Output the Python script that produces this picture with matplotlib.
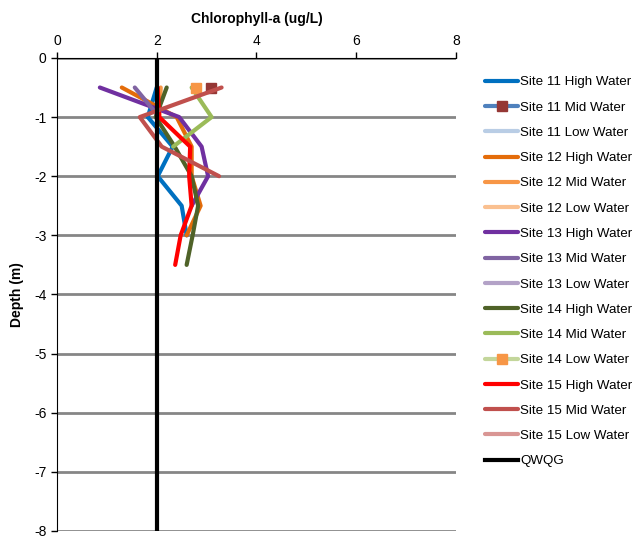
import matplotlib.pyplot as plt

plt.rcParams['font.family'] = ['Liberation Sans', 'DejaVu Sans']
plt.rcParams['axes.unicode_minus'] = False

# chlorophyll-a profiles (ug/L) against depth (m) for each site / water level
labels = ['Site 11 High Water', 'Site 11 Mid Water', 'Site 11 Low Water',
          'Site 12 High Water', 'Site 12 Mid Water', 'Site 12 Low Water',
          'Site 13 High Water', 'Site 13 Mid Water', 'Site 13 Low Water',
          'Site 14 High Water', 'Site 14 Mid Water', 'Site 14 Low Water',
          'Site 15 High Water', 'Site 15 Mid Water', 'Site 15 Low Water']

s11_high_chl = [2.0, 1.82, 2.32, 2.02, 2.5, 2.6]
s11_high_z = [-0.5, -1.0, -1.5, -2.0, -2.5, -3.0]
s11_mid_chl = [3.09]
s11_mid_z = [-0.5]
s11_low_chl = []
s11_low_z = []

s12_high_chl = [1.3, 2.4, 2.7, 2.7, 2.88, 2.6]
s12_high_z = [-0.5, -1.0, -1.5, -2.0, -2.5, -3.0]
s12_mid_chl = [2.08, 2.05]
s12_mid_z = [-0.5, -1.0]
s12_low_chl = []
s12_low_z = []

s13_high_chl = [0.86, 2.45, 2.9, 3.03, 2.7]
s13_high_z = [-0.5, -1.0, -1.5, -2.0, -2.5]
s13_mid_chl = [1.56, 2.05]
s13_mid_z = [-0.5, -1.0]
s13_low_chl = []
s13_low_z = []

s14_high_chl = [2.2, 1.98, 2.36, 2.7, 2.83, 2.72, 2.6]
s14_high_z = [-0.5, -1.0, -1.5, -2.0, -2.5, -3.0, -3.5]
s14_mid_chl = [2.7, 3.1, 2.33]
s14_mid_z = [-0.5, -1.0, -1.5]
s14_low_chl = [2.79]
s14_low_z = [-0.5]

s15_high_chl = [2.02, 2.05, 2.67, 2.65, 2.7, 2.48, 2.37]
s15_high_z = [-0.5, -1.0, -1.5, -2.0, -2.5, -3.0, -3.5]
s15_mid_chl = [3.3, 1.66, 2.1, 3.25]
s15_mid_z = [-0.5, -1.0, -1.5, -2.0]
s15_low_chl = []
s15_low_z = []

# water quality guideline
qwqg_chl = [2, 2]
qwqg_z = [0, -8]

series = [
    (s11_high_chl, s11_high_z, '#0070C0', None, None),
    (s11_mid_chl, s11_mid_z, '#4F81BD', 's', '#953735'),
    (s11_low_chl, s11_low_z, '#B9CDE5', None, None),
    (s12_high_chl, s12_high_z, '#E46C0A', None, None),
    (s12_mid_chl, s12_mid_z, '#F79646', None, None),
    (s12_low_chl, s12_low_z, '#FAC090', None, None),
    (s13_high_chl, s13_high_z, '#7030A0', None, None),
    (s13_mid_chl, s13_mid_z, '#8064A2', None, None),
    (s13_low_chl, s13_low_z, '#B3A2C7', None, None),
    (s14_high_chl, s14_high_z, '#4F6228', None, None),
    (s14_mid_chl, s14_mid_z, '#9BBB59', None, None),
    (s14_low_chl, s14_low_z, '#C3D69B', 's', '#F79646'),
    (s15_high_chl, s15_high_z, '#FF0000', None, None),
    (s15_mid_chl, s15_mid_z, '#C0504D', None, None),
    (s15_low_chl, s15_low_z, '#D99694', None, None),
]

fig = plt.figure(figsize=(6.38, 5.4), dpi=100)
ax = fig.add_axes([0.0893, 0.0167, 0.6254, 0.876])

for y in range(-8, 1):
    ax.axhline(y, color='#868686', lw=2, zorder=0)

for (chl, z, col, mk, mcol), lab in zip(series, labels):
    ax.plot(chl, z, color=col, lw=3, marker=mk, markersize=7,
            markerfacecolor=mcol, markeredgecolor=mcol, label=lab,
            solid_capstyle='round', zorder=2)

ax.plot(qwqg_chl, qwqg_z, color='black', lw=3, label='QWQG', zorder=3)

ax.set_xlim(0, 8)
ax.set_ylim(-8, 0)
ax.set_xticks([0, 2, 4, 6, 8])
ax.set_yticks(range(-8, 1))
ax.xaxis.tick_top()
ax.xaxis.set_label_position('top')
ax.set_xlabel('Chlorophyll-a (ug/L)', fontsize=10, fontweight='bold', labelpad=7.5)
ax.set_ylabel('Depth (m)', fontsize=10, fontweight='bold', labelpad=7.5)
ax.tick_params(labelsize=10, length=4, width=1, direction='out')
for side in ['right', 'bottom']:
    ax.spines[side].set_visible(False)
ax.spines['top'].set_color('black')
ax.spines['left'].set_color('black')

fig.legend(loc='upper left', bbox_to_anchor=(0.752, 0.869), frameon=False,
           fontsize=9.6, handlelength=2.5, handletextpad=0.15,
           labelspacing=0.97, borderaxespad=0)

fig.savefig('out.png', dpi=100)
